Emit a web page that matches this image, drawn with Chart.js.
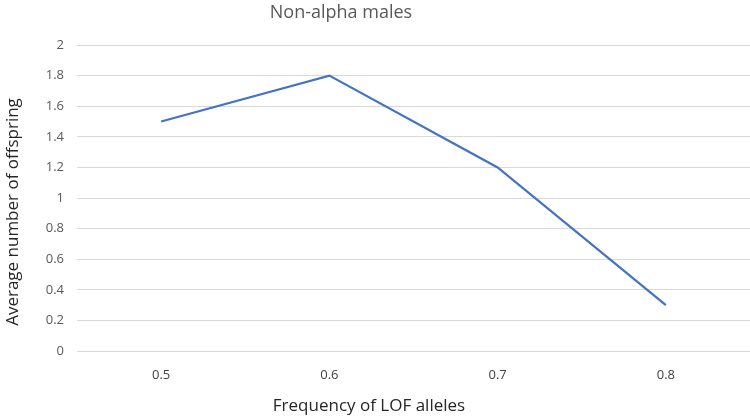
<!DOCTYPE html>
<html>
<head>
<meta charset="utf-8">
<script src="https://cdn.jsdelivr.net/npm/chart.js@4/dist/chart.umd.min.js"></script>
<style>
  html, body { margin: 0; padding: 0; background: #fff; }
  #wrap { width: 750px; height: 420px; }
</style>
</head>
<body>
<div id="wrap"><canvas id="chart"></canvas></div>
<script>
var categories = ['0.5', '0.6', '0.7', '0.8'];
var offspring = [1.5, 1.8, 1.2, 0.3];
var chartTitle = 'Non-alpha males';
var xTitle = 'Frequency of LOF alleles';
var yTitle = 'Average number of offspring';

var fontFamily = '"Open Sans", "Noto Sans", sans-serif';

// chart and axis titles sit where the original put them (not centred on the plot)
var titlePlugin = {
    id: 'titles',
    afterDraw: function (chart) {
        var ctx = chart.ctx;
        ctx.save();
        ctx.textAlign = 'center';
        ctx.textBaseline = 'middle';

        ctx.font = '18px ' + fontFamily;
        ctx.fillStyle = '#595959';
        ctx.fillText(chartTitle, 341, 13);

        ctx.font = '17px ' + fontFamily;
        ctx.fillStyle = '#262626';
        ctx.fillText(xTitle, 369, 406);

        ctx.translate(13, 212);
        ctx.rotate(-Math.PI / 2);
        ctx.fillText(yTitle, 0, 0);
        ctx.restore();
    }
};

var ctx = document.getElementById('chart').getContext('2d');
new Chart(ctx, {
    type: 'line',
    data: {
        labels: categories,
        datasets: [{
            label: chartTitle,
            data: offspring,
            borderColor: '#4472C4',
            borderWidth: 2.25,
            pointRadius: 0,
            pointHoverRadius: 0,
            fill: false,
            tension: 0
        }]
    },
    options: {
        responsive: true,
        maintainAspectRatio: false,
        animation: false,
        layout: { padding: { top: 45, right: 0, left: 0, bottom: 0 } },
        plugins: {
            legend: { display: false },
            title: { display: false },
            tooltip: { enabled: false }
        },
        scales: {
            x: {
                offset: true,
                grid: { display: false },
                border: { display: false },
                ticks: {
                    color: '#404040',
                    font: { family: fontFamily, size: 13 },
                    padding: 8,
                    maxRotation: 0
                },
                afterFit: function (scale) { scale.height = 69; }
            },
            y: {
                min: 0,
                max: 2,
                grid: { color: '#d9d9d9', lineWidth: 1, drawTicks: false },
                border: { display: false },
                ticks: {
                    stepSize: 0.2,
                    color: '#595959',
                    font: { family: fontFamily, size: 13 },
                    padding: 13,
                    callback: function (v) { return String(Number(v.toFixed(1))); }
                },
                afterFit: function (scale) { scale.width = 77; }
            }
        }
    },
    plugins: [titlePlugin]
});
</script>
</body>
</html>
